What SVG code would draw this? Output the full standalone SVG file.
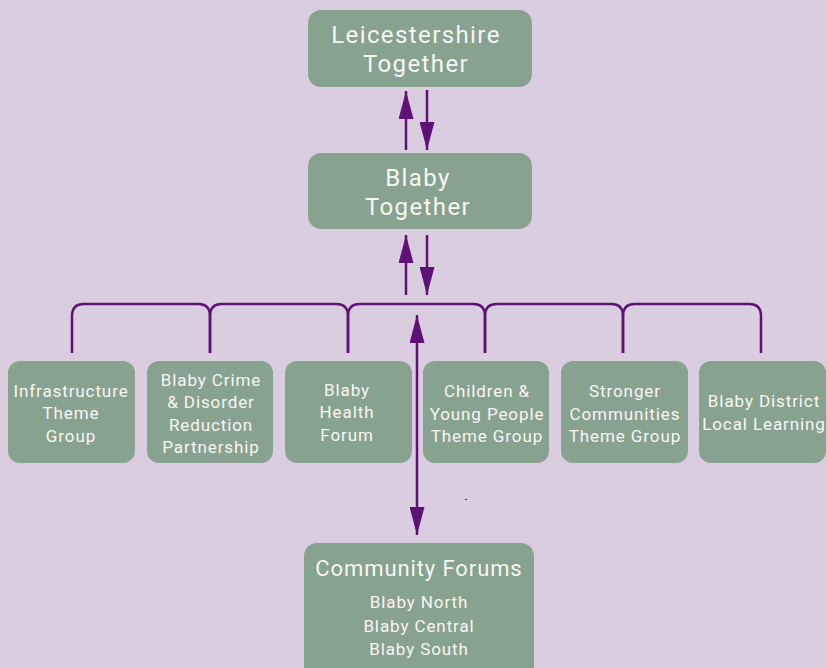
<svg xmlns="http://www.w3.org/2000/svg" width="827" height="668" viewBox="0 0 827 668">
<defs>
<marker id="ah" viewBox="0 0 28 15" refX="28" refY="7.5" markerWidth="28" markerHeight="15" orient="auto" markerUnits="userSpaceOnUse">
<path d="M0,0 L28,7.5 L0,15 Z" fill="#5e1277"/>
</marker>
<style>
.box{fill:#88a290;}
.t{font-family:Roboto,"Liberation Sans",sans-serif;fill:#f7f7f2;text-anchor:middle;}
.big{font-size:24px;letter-spacing:1.4px;}
.mid{font-size:17px;letter-spacing:0.9px;}
.cf{font-size:22px;letter-spacing:0.9px;}
.ln{stroke:#5e1277;stroke-width:2.5;fill:none;}
</style>
</defs>
<rect width="827" height="668" fill="#dbcde0"/>
<g id="connectors">
<line class="ln" x1="406" y1="150" x2="406" y2="91" marker-end="url(#ah)"/>
<line class="ln" x1="427" y1="90" x2="427" y2="150" marker-end="url(#ah)"/>
<line class="ln" x1="406" y1="295" x2="406" y2="235" marker-end="url(#ah)"/>
<line class="ln" x1="427" y1="235" x2="427" y2="295" marker-end="url(#ah)"/>
<path class="ln" d="M72,353 V316 Q72,304 84,304 H198 Q210,304 210,316 V353"/>
<path class="ln" d="M210,353 V316 Q210,304 222,304 H336 Q348,304 348,316 V353"/>
<path class="ln" d="M348,353 V316 Q348,304 360,304 H473 Q485,304 485,316 V353"/>
<path class="ln" d="M485,353 V316 Q485,304 497,304 H611 Q623,304 623,316 V353"/>
<path class="ln" d="M623,353 V316 Q623,304 635,304 H749 Q761,304 761,316 V353"/>
<line class="ln" x1="417" y1="420" x2="417" y2="315" marker-end="url(#ah)"/>
<line class="ln" x1="417" y1="420" x2="417" y2="535" marker-end="url(#ah)"/>
</g>
<g id="leics">
<rect class="box" x="308" y="10" width="224" height="77" rx="13"/>
<text class="t big" x="416" y="43">Leicestershire</text>
<text class="t big" x="416" y="72">Together</text>
</g>
<g id="blaby">
<rect class="box" x="308" y="153" width="224" height="76" rx="13"/>
<text class="t big" x="418" y="186">Blaby</text>
<text class="t big" x="418" y="215">Together</text>
</g>
<g id="infra">
<rect class="box" x="8" y="361" width="127" height="102" rx="12"/>
<text class="t mid" x="71" y="397">Infrastructure</text>
<text class="t mid" x="71" y="419">Theme</text>
<text class="t mid" x="71" y="442">Group</text>
</g>
<g id="crime">
<rect class="box" x="147" y="361" width="126" height="102" rx="12"/>
<text class="t mid" x="211" y="386">Blaby Crime</text>
<text class="t mid" x="211" y="408">&amp; Disorder</text>
<text class="t mid" x="211" y="431">Reduction</text>
<text class="t mid" x="211" y="453">Partnership</text>
</g>
<g id="health">
<rect class="box" x="285" y="361" width="127" height="102" rx="12"/>
<text class="t mid" x="347" y="396">Blaby</text>
<text class="t mid" x="347" y="418">Health</text>
<text class="t mid" x="347" y="441">Forum</text>
</g>
<g id="children">
<rect class="box" x="423" y="361" width="126" height="102" rx="12"/>
<text class="t mid" x="487" y="397">Children &amp;</text>
<text class="t mid" x="487" y="420">Young People</text>
<text class="t mid" x="487" y="442">Theme Group</text>
</g>
<g id="stronger">
<rect class="box" x="561" y="361" width="127" height="102" rx="12"/>
<text class="t mid" x="625" y="397">Stronger</text>
<text class="t mid" x="625" y="420">Communities</text>
<text class="t mid" x="625" y="442">Theme Group</text>
</g>
<g id="learning">
<rect class="box" x="699" y="361" width="127" height="102" rx="12"/>
<text class="t mid" x="764" y="407">Blaby District</text>
<text class="t mid" x="764" y="430">Local Learning</text>
</g>
<g id="forums">
<rect class="box" x="304" y="543" width="230" height="140" rx="13"/>
<text class="t cf" x="419" y="576">Community Forums</text>
<text class="t mid" x="419" y="608">Blaby North</text>
<text class="t mid" x="419" y="632">Blaby Central</text>
<text class="t mid" x="419" y="655">Blaby South</text>
</g>
<rect x="465" y="499" width="2" height="1" fill="#333"/>
</svg>
